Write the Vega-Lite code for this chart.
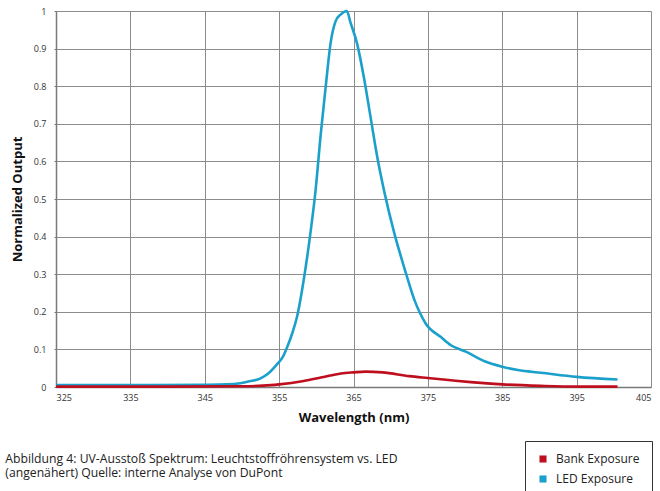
{
  "$schema": "https://vega.github.io/schema/vega-lite/v6.json",
  "width": 595,
  "height": 376,
  "padding": {"left": 5, "top": 5, "right": 0, "bottom": 0},
  "background": "white",
  "title": {
    "text": [
      "Abbildung 4: UV-Ausstoß Spektrum: Leuchtstoffröhrensystem vs. LED",
      "(angenähert) Quelle: interne Analyse von DuPont"
    ],
    "orient": "bottom",
    "anchor": "start",
    "frame": "bounds",
    "font": "Open Sans",
    "fontSize": 12.2,
    "fontWeight": "normal",
    "color": "#222222",
    "lineHeight": 14.5,
    "dx": -6,
    "offset": -45
  },
  "data": {
    "values": [
      {"wavelength": 325, "series": "LED Exposure", "value": 0.005},
      {"wavelength": 335, "series": "LED Exposure", "value": 0.005},
      {"wavelength": 345, "series": "LED Exposure", "value": 0.006},
      {"wavelength": 348, "series": "LED Exposure", "value": 0.007},
      {"wavelength": 349.8, "series": "LED Exposure", "value": 0.01},
      {"wavelength": 351, "series": "LED Exposure", "value": 0.015},
      {"wavelength": 352.5, "series": "LED Exposure", "value": 0.023},
      {"wavelength": 353.5, "series": "LED Exposure", "value": 0.035},
      {"wavelength": 354.7, "series": "LED Exposure", "value": 0.06},
      {"wavelength": 355.5, "series": "LED Exposure", "value": 0.08},
      {"wavelength": 356.1, "series": "LED Exposure", "value": 0.107},
      {"wavelength": 356.8, "series": "LED Exposure", "value": 0.145},
      {"wavelength": 357.4, "series": "LED Exposure", "value": 0.186},
      {"wavelength": 358.3, "series": "LED Exposure", "value": 0.284},
      {"wavelength": 359.2, "series": "LED Exposure", "value": 0.408},
      {"wavelength": 359.9, "series": "LED Exposure", "value": 0.523},
      {"wavelength": 360.6, "series": "LED Exposure", "value": 0.673},
      {"wavelength": 361.3, "series": "LED Exposure", "value": 0.806},
      {"wavelength": 361.9, "series": "LED Exposure", "value": 0.912},
      {"wavelength": 362.6, "series": "LED Exposure", "value": 0.973},
      {"wavelength": 363.3, "series": "LED Exposure", "value": 0.991},
      {"wavelength": 364.1, "series": "LED Exposure", "value": 1.0},
      {"wavelength": 364.6, "series": "LED Exposure", "value": 0.969},
      {"wavelength": 365.5, "series": "LED Exposure", "value": 0.912},
      {"wavelength": 366.4, "series": "LED Exposure", "value": 0.823},
      {"wavelength": 367.3, "series": "LED Exposure", "value": 0.717},
      {"wavelength": 368.2, "series": "LED Exposure", "value": 0.611},
      {"wavelength": 369.1, "series": "LED Exposure", "value": 0.523},
      {"wavelength": 370.5, "series": "LED Exposure", "value": 0.408},
      {"wavelength": 371.8, "series": "LED Exposure", "value": 0.319},
      {"wavelength": 373.2, "series": "LED Exposure", "value": 0.231},
      {"wavelength": 374.7, "series": "LED Exposure", "value": 0.169},
      {"wavelength": 376.8, "series": "LED Exposure", "value": 0.132},
      {"wavelength": 378.1, "series": "LED Exposure", "value": 0.111},
      {"wavelength": 380.1, "series": "LED Exposure", "value": 0.094},
      {"wavelength": 382.8, "series": "LED Exposure", "value": 0.067},
      {"wavelength": 385, "series": "LED Exposure", "value": 0.054},
      {"wavelength": 387.1, "series": "LED Exposure", "value": 0.045},
      {"wavelength": 390.2, "series": "LED Exposure", "value": 0.038},
      {"wavelength": 395, "series": "LED Exposure", "value": 0.027},
      {"wavelength": 400.5, "series": "LED Exposure", "value": 0.02},
      {"wavelength": 325, "series": "Bank Exposure", "value": 0.001},
      {"wavelength": 340, "series": "Bank Exposure", "value": 0.001},
      {"wavelength": 350, "series": "Bank Exposure", "value": 0.002},
      {"wavelength": 353.9, "series": "Bank Exposure", "value": 0.005},
      {"wavelength": 355, "series": "Bank Exposure", "value": 0.007},
      {"wavelength": 358.3, "series": "Bank Exposure", "value": 0.016},
      {"wavelength": 360.6, "series": "Bank Exposure", "value": 0.025},
      {"wavelength": 363.3, "series": "Bank Exposure", "value": 0.036},
      {"wavelength": 365, "series": "Bank Exposure", "value": 0.039},
      {"wavelength": 366.6, "series": "Bank Exposure", "value": 0.041},
      {"wavelength": 368.9, "series": "Bank Exposure", "value": 0.039},
      {"wavelength": 372.5, "series": "Bank Exposure", "value": 0.029},
      {"wavelength": 375, "series": "Bank Exposure", "value": 0.024},
      {"wavelength": 378.1, "series": "Bank Exposure", "value": 0.018},
      {"wavelength": 380.8, "series": "Bank Exposure", "value": 0.013},
      {"wavelength": 385, "series": "Bank Exposure", "value": 0.007},
      {"wavelength": 390.2, "series": "Bank Exposure", "value": 0.003},
      {"wavelength": 395, "series": "Bank Exposure", "value": 0.001},
      {"wavelength": 400.5, "series": "Bank Exposure", "value": 0.001}
    ]
  },
  "mark": {"type": "line", "strokeWidth": 2.6, "interpolate": "monotone"},
  "encoding": {
    "x": {
      "field": "wavelength",
      "type": "quantitative",
      "scale": {"domain": [325, 405], "nice": false, "zero": false},
      "axis": {
        "values": [325, 335, 345, 355, 365, 375, 385, 395, 405],
        "title": "Wavelength (nm)",
        "ticks": false,
        "labelPadding": 6,
        "titlePadding": 9
      }
    },
    "y": {
      "field": "value",
      "type": "quantitative",
      "scale": {"domain": [0, 1], "nice": false},
      "axis": {
        "values": [0, 0.1, 0.2, 0.3, 0.4, 0.5, 0.6, 0.7, 0.8, 0.9, 1],
        "format": ".1~f",
        "title": "Normalized Output",
        "tickSize": 2,
        "labelPadding": 8,
        "titlePadding": 9
      }
    },
    "color": {
      "field": "series",
      "type": "nominal",
      "scale": {
        "domain": ["Bank Exposure", "LED Exposure"],
        "range": ["#be0f1f", "#1ba0cc"]
      },
      "legend": {
        "title": null,
        "orient": "none",
        "legendX": 469,
        "legendY": 430,
        "direction": "vertical",
        "symbolType": "square",
        "symbolSize": 50,
        "symbolStrokeWidth": 0,
        "symbolOpacity": 1,
        "labelFont": "Open Sans",
        "labelFontSize": 12,
        "labelColor": "#222222",
        "labelOffset": 7,
        "rowPadding": 8,
        "padding": 12,
        "strokeColor": "#333333",
        "fillColor": "white",
        "encode": {
          "symbols": {
            "update": {
              "fill": {"scale": "color", "field": "value"},
              "opacity": {"value": 1}
            }
          }
        }
      }
    }
  },
  "config": {
    "view": {"stroke": null},
    "font": "Open Sans",
    "axis": {
      "gridColor": "#8c8c8c",
      "gridWidth": 1,
      "gridOpacity": 1,
      "domainColor": "#7a7a7a",
      "domainWidth": 1.5,
      "tickColor": "#7a7a7a",
      "labelFont": "Open Sans",
      "labelFontSize": 9,
      "labelColor": "#333333",
      "titleFont": "Open Sans",
      "titleFontSize": 13,
      "titleFontWeight": "bold",
      "titleColor": "#111111"
    }
  }
}
